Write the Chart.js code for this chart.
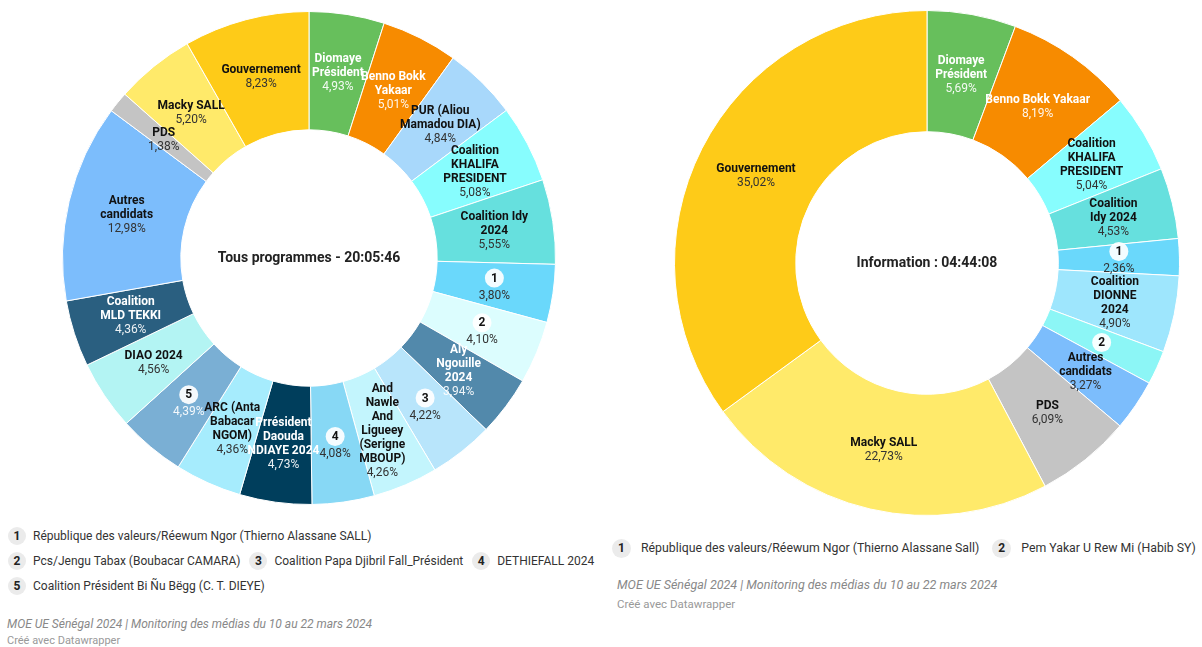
<!DOCTYPE html>
<html>
<head>
<meta charset="utf-8">
<script src="https://cdn.jsdelivr.net/npm/chart.js@4"></script>
<style>
  body { margin: 0; background: #fff; font-family: Roboto, "Noto Sans", sans-serif; }
  #page { position: relative; width: 1202px; height: 647px; overflow: hidden; }
  canvas { position: absolute; }
  .legend { position: absolute; display: flex; flex-wrap: wrap; column-gap: 9px; font-size: 12px; color: #333; }
  .item { display: flex; align-items: center; height: 20px; margin-bottom: 5px; white-space: nowrap; }
  .badge { width: 18px; height: 18px; border-radius: 50%; background: #ebebeb; font-weight: bold; color: #222;
           display: flex; align-items: center; justify-content: center; margin-right: 7px; font-size: 12px; }
  #rightLegend { font-size: 12.3px; column-gap: 13px; }
  #rightLegend .badge { margin-right: 10px; width: 19px; height: 19px; }
  .note { position: absolute; font-size: 12px; font-style: italic; color: #888; white-space: nowrap; }
  .credit { position: absolute; font-size: 11px; color: #999; white-space: nowrap; }
</style>
</head>
<body>
<div id="page">
  <canvas id="leftChart" width="618" height="516" style="left:0;top:0"></canvas>
  <canvas id="rightChart" width="550" height="526" style="left:652px;top:0"></canvas>
  <div class="legend" id="leftLegend" style="left:8px;top:526px;width:598px"></div>
  <div class="legend" id="rightLegend" style="left:612px;top:538px;width:640px"></div>
  <div class="note" style="left:7px;top:617px">MOE UE Sénégal 2024 | Monitoring des médias du 10 au 22 mars 2024</div>
  <div class="credit" style="left:7px;top:634px">Créé avec Datawrapper</div>
  <div class="note" style="left:617px;top:577px;font-size:12.5px">MOE UE Sénégal 2024 | Monitoring des médias du 10 au 22 mars 2024</div>
  <div class="credit" style="left:617px;top:597px;font-size:11.5px">Créé avec Datawrapper</div>
</div>
<script>
// Tous programmes
var leftLabels = ['Diomaye\nPrésident', 'Benno Bokk\nYakaar', 'PUR (Aliou\nMamadou DIA)', 'Coalition\nKHALIFA\nPRESIDENT',
    'Coalition Idy\n2024', '1', '2', 'Aly\nNgouille\n2024', '3', 'And\nNawle\nAnd\nLigueey\n(Serigne\nMBOUP)', '4',
    'Prrésident\nDaouda\nNDIAYE 2024', 'ARC (Anta\nBabacar\nNGOM)', '5', 'DIAO 2024', 'Coalition\nMLD TEKKI',
    'Autres\ncandidats', 'PDS', 'Macky SALL', 'Gouvernement'];
var leftValues = [4.93, 5.01, 4.84, 5.08, 5.55, 3.80, 4.10, 3.94, 4.22, 4.26, 4.08, 4.73, 4.36, 4.39, 4.56, 4.36, 12.98, 1.38, 5.20, 8.23];
var leftColors = ['#67bf5c', '#f78b00', '#a8d8fb', '#87fdfe', '#66e0de', '#6ad8fb', '#dcfdfe', '#5289ab', '#b8e5fb', '#c3f5fd',
    '#87d8f5', '#003e5c', '#a6ecfd', '#7aafd4', '#b3f4f3', '#2a5f80', '#7cbdfc', '#c4c4c4', '#ffea6a', '#fecb18'];
var leftWhite = [0, 1, 7, 11, 13, 15];
var leftLegendItems = ['République des valeurs/Réewum Ngor (Thierno Alassane SALL)', 'Pcs/Jengu Tabax (Boubacar CAMARA)',
    'Coalition Papa Djibril Fall_Président', 'DETHIEFALL 2024', 'Coalition Président Bi Ñu Bëgg (C. T. DIEYE)'];

// Information
var rightLabels = ['Diomaye\nPrésident', 'Benno Bokk Yakaar', 'Coalition\nKHALIFA\nPRESIDENT', 'Coalition\nIdy 2024', '1',
    'Coalition\nDIONNE\n2024', '2', 'Autres\ncandidats', 'PDS', 'Macky SALL', 'Gouvernement'];
var rightValues = [5.69, 8.19, 5.04, 4.53, 2.36, 4.90, 2.18, 3.27, 6.09, 22.73, 35.02];
var rightColors = ['#67bf5c', '#f78b00', '#87fdfe', '#66e0de', '#6ad8fb', '#9ee6fd', '#8cf6f6', '#7cbdfc', '#c4c4c4', '#ffea6a', '#fecb18'];
var rightWhite = [0, 1];
var rightHidePct = [6];
var rightLegendItems = ['République des valeurs/Réewum Ngor (Thierno Alassane Sall)', 'Pem Yakar U Rew Mi (Habib SY)'];

function fmt(v) { return v.toFixed(2).replace('.', ',') + '%'; }

// draws names, badges and percentages in the middle of each slice
var sliceLabels = {
    id: 'sliceLabels',
    afterDatasetsDraw: function(chart, args, opts) {
        var ctx = chart.ctx;
        var arcs = chart.getDatasetMeta(0).data;
        var values = chart.data.datasets[0].data;
        ctx.save();
        ctx.textAlign = 'center';
        ctx.textBaseline = 'middle';
        arcs.forEach(function(arc, i) {
            var p = arc.getProps(['x', 'y', 'startAngle', 'endAngle', 'innerRadius', 'outerRadius'], true);
            var mid = (p.startAngle + p.endAngle) / 2;
            var r = (p.innerRadius + p.outerRadius) / 2;
            var cx = p.x + Math.cos(mid) * r;
            var cy = p.y + Math.sin(mid) * r;
            var label = chart.data.labels[i];
            var white = opts.white.indexOf(i) >= 0;
            var showPct = opts.hidePct.indexOf(i) < 0;
            var isBadge = /^\d$/.test(label);
            var lines = isBadge ? [] : label.split('\n');
            var h = (isBadge ? 20 : lines.length * 14) + (showPct ? 14 : 0);
            var y = cy - h / 2;
            if (isBadge) {
                ctx.beginPath();
                ctx.arc(cx, y + 10, 9.5, 0, Math.PI * 2);
                ctx.fillStyle = 'rgba(255,255,255,0.92)';
                ctx.fill();
                ctx.fillStyle = '#111';
                ctx.font = 'bold 12px Roboto';
                ctx.fillText(label, cx, y + 10.5);
                y += 20;
            } else {
                ctx.fillStyle = white ? '#fff' : '#111';
                ctx.font = 'bold 12px Roboto';
                lines.forEach(function(t) {
                    ctx.fillText(t, cx, y + 7.5);
                    y += 14;
                });
            }
            if (showPct) {
                ctx.fillStyle = white ? 'rgba(255,255,255,0.92)' : '#333';
                ctx.font = '12px Roboto';
                ctx.fillText(fmt(values[i]), cx, y + 7.5);
            }
        });
        // title in the hole
        var m = arcs[0];
        ctx.fillStyle = '#222';
        ctx.font = 'bold 14px Roboto';
        ctx.fillText(opts.title, m.x, m.y);
        ctx.restore();
    }
};

function makeChart(id, labels, values, colors, white, hidePct, title, pad) {
    return new Chart(document.getElementById(id).getContext('2d'), {
        type: 'doughnut',
        data: {
            labels: labels,
            datasets: [{
                data: values,
                backgroundColor: colors,
                borderColor: '#ffffff',
                borderWidth: 1
            }]
        },
        options: {
            responsive: false,
            animation: false,
            cutout: '52%',
            layout: { padding: { top: pad, bottom: pad } },
            plugins: {
                legend: { display: false },
                tooltip: { enabled: false },
                sliceLabels: { white: white, hidePct: hidePct, title: title }
            }
        },
        plugins: [sliceLabels]
    });
}

makeChart('leftChart', leftLabels, leftValues, leftColors, leftWhite, [], 'Tous programmes - 20:05:46', 11);
makeChart('rightChart', rightLabels, rightValues, rightColors, rightWhite, rightHidePct, 'Information : 04:44:08', 10);

function buildLegend(id, items) {
    var box = document.getElementById(id);
    items.forEach(function(t, i) {
        var d = document.createElement('div');
        d.className = 'item';
        d.innerHTML = '<span class="badge">' + (i + 1) + '</span>' + t;
        box.appendChild(d);
    });
}
buildLegend('leftLegend', leftLegendItems);
buildLegend('rightLegend', rightLegendItems);
</script>
</body>
</html>
